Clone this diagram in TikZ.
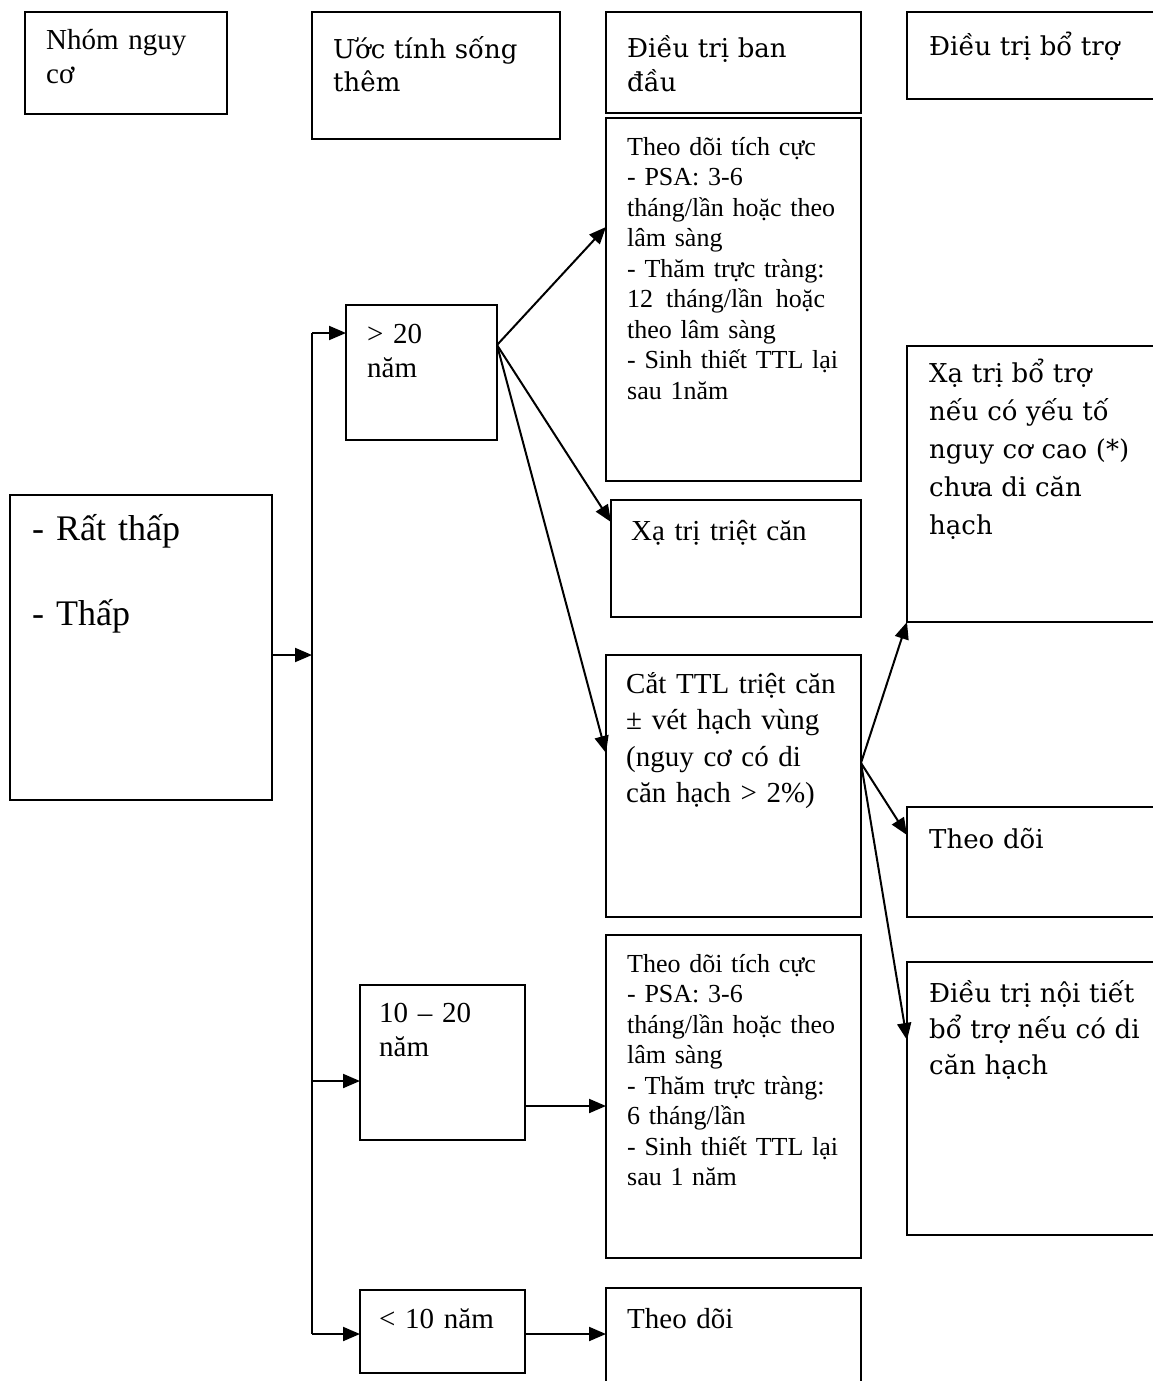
\documentclass[tikz,border=0pt]{standalone}
\usepackage{fontspec}
\setmainfont{Liberation Serif}
\newfontfamily\camfont{DejaVu Serif}
\usetikzlibrary{arrows.meta,calc}
\begin{document}
\begin{tikzpicture}[x=1pt,y=-1pt,
  box/.style={draw, line width=1.4pt, inner sep=0pt, outer sep=0pt, anchor=north west},
  txt/.style={anchor=base west, inner sep=0pt, align=left, text width=245pt},
  tms/.style={txt, font=\fontsize{29}{34}\selectfont},
  tsm/.style={txt, font=\fontsize{26}{30.5}\selectfont},
  cam/.style={txt, font=\camfont\fontsize{26}{36}\selectfont},
  arr/.style={line width=2pt, -{Triangle[length=17pt,width=14pt]}},
  link/.style={line width=2pt}]
\fill[white] (0,0) rectangle (1153,1381);
\useasboundingbox (0,0) rectangle (1153,1381);
% header boxes
\node[box, minimum width=202pt, minimum height=102pt] (h1) at (25,12) {};
\node[box, minimum width=248pt, minimum height=127pt] (h2) at (312,12) {};
\node[box, minimum width=255pt, minimum height=101pt] (h3) at (606,12) {};
\node[box, minimum width=260pt, minimum height=87pt] (h4) at (907,12) {};
% body boxes
\node[box, minimum width=255pt, minimum height=363pt] (bA) at (606,118) {};
\node[box, minimum width=151pt, minimum height=135pt] (g20) at (346,305) {};
\node[box, minimum width=250pt, minimum height=117pt] (xt) at (611,500) {};
\node[box, minimum width=255pt, minimum height=262pt] (ct) at (606,655) {};
\node[box, minimum width=262pt, minimum height=305pt] (ra) at (10,495) {};
\node[box, minimum width=260pt, minimum height=276pt] (xb) at (907,346) {};
\node[box, minimum width=260pt, minimum height=110pt] (td) at (907,807) {};
\node[box, minimum width=260pt, minimum height=273pt] (nt) at (907,962) {};
\node[box, minimum width=165pt, minimum height=155pt] (g1020) at (360,985) {};
\node[box, minimum width=255pt, minimum height=323pt] (bB) at (606,935) {};
\node[box, minimum width=165pt, minimum height=83pt] (l10) at (360,1290) {};
\node[box, minimum width=255pt, minimum height=110pt] (td2) at (606,1288) {};
% texts
\node[tms] (h1t) at (46,50) {Nhóm nguy\\cơ};
\node[cam, font=\camfont\fontsize{26}{33}\selectfont] (h2t) at (333,59) {Ước tính sống\\thêm};
\node[cam, font=\camfont\fontsize{26}{33}\selectfont] (h3t) at (627,58) {Điều trị ban\\đầu};
\node[cam] (h4t) at (929,56) {Điều trị bổ trợ};
\node[tsm] (bAt) at (627,155) {Theo dõi tích cực\\- PSA: 3-6\\tháng/lần hoặc theo\\lâm sàng\\- Thăm trực tràng:\\12\hspace{0.5em}tháng/lần\hspace{0.5em}hoặc\\theo lâm sàng\\- Sinh thiết TTL lại\\sau 1năm};
\node[tms] (g20t) at (367,343) {> 20\\năm};
\node[tms] (xtt) at (631,540) {Xạ trị triệt căn};
\node[tms, font=\fontsize{29}{36.5}\selectfont] (ctt) at (626,693) {Cắt TTL triệt căn\\± vét hạch vùng\\(nguy cơ có di\\căn hạch > 2\%)};
\node[tms, font=\fontsize{36}{85}\selectfont] (rat) at (32,540) {- Rất thấp\\- Thấp};
\node[cam, font=\camfont\fontsize{26}{38}\selectfont] (xbt) at (929,382) {Xạ trị bổ trợ\\nếu có yếu tố\\nguy cơ cao (*)\\chưa di căn\\hạch};
\node[cam] (tdt) at (929,848) {Theo dõi};
\node[cam] (ntt) at (929,1002) {Điều trị nội tiết\\bổ trợ nếu có di\\căn hạch};
\node[tms] (g1020t) at (379,1022) {10 – 20\\năm};
\node[tsm] (bBt) at (627,972) {Theo dõi tích cực\\- PSA: 3-6\\tháng/lần hoặc theo\\lâm sàng\\- Thăm trực tràng:\\6 tháng/lần\\- Sinh thiết TTL lại\\sau 1 năm};
\node[tms] (l10t) at (379,1328) {< 10 năm};
\node[tms] (td2t) at (627,1328) {Theo dõi};
% connectors
\coordinate (jra) at (312,655);
\coordinate (jtop) at (312,333);
\coordinate (jmid) at (312,1081);
\coordinate (jbot) at (312,1334);
\draw[link] (jtop) -- (jbot);
\draw[arr] (ra.east |- jra) -- (jra);
\draw[arr] (jtop) -- (jtop -| g20.west);
\draw[arr] (jmid) -- (jmid -| g1020.west);
\draw[arr] (jbot) -- (jbot -| l10.west);
\coordinate (s20) at ($(g20.north east)+(0,40)$);
\draw[arr] (s20) -- ($(bA.north west)+(0,109)$);
\draw[arr] (s20) -- ($(xt.north west)+(0,22)$);
\draw[arr] (s20) -- ($(ct.north west)+(0,98)$);
\coordinate (sct) at ($(ct.north east)+(0,108)$);
\draw[arr] (sct) -- (xb.south west);
\draw[arr] (sct) -- ($(td.north west)+(0,28)$);
\draw[arr] (sct) -- ($(nt.north west)+(0,78)$);
\coordinate (o1020) at ($(g1020.north east)+(0,121)$);
\draw[arr] (o1020) -- (o1020 -| bB.west);
\coordinate (o10) at ($(l10.north east)+(0,44)$);
\draw[arr] (o10) -- (o10 -| td2.west);
\end{tikzpicture}
\end{document}
